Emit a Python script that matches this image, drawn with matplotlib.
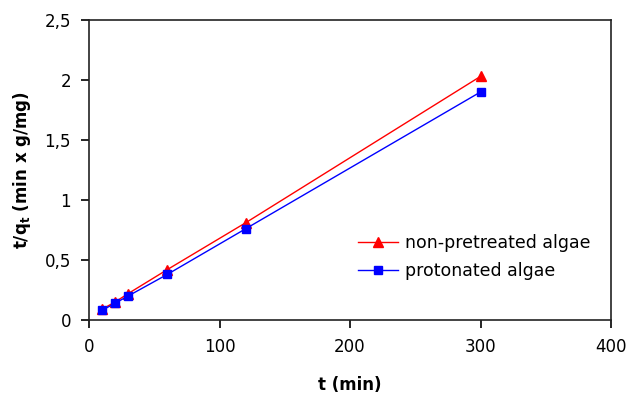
import matplotlib
matplotlib.use("Agg")
import matplotlib.pyplot as plt
from matplotlib.ticker import FuncFormatter, MultipleLocator

plt.rcParams["font.family"] = ["DejaVu Sans"]
plt.rcParams["mathtext.fontset"] = "dejavusans"

# Данные (время, мин) и t/qt
t_min = [10, 20, 30, 60, 120, 300]
non_pretreated = [0.09, 0.15, 0.22, 0.42, 0.81, 2.03]
protonated = [0.08, 0.14, 0.20, 0.38, 0.76, 1.90]

fig = plt.figure(figsize=(6.29, 3.95), dpi=100)
ax = fig.add_axes([89 / 629, 75 / 395, 522 / 629, 300 / 395])

ax.plot(t_min, non_pretreated, color="red", marker="^", markersize=7,
        linewidth=1, label="non-pretreated algae")
ax.plot(t_min, protonated, color="blue", marker="s", markersize=6,
        linewidth=1, label="protonated algae")

ax.set_xlim(0, 400)
ax.set_ylim(0, 2.5)
ax.xaxis.set_major_locator(MultipleLocator(100))
ax.yaxis.set_major_locator(MultipleLocator(0.5))
ax.yaxis.set_major_formatter(FuncFormatter(lambda v, p: f"{v:g}".replace(".", ",")))

for s in ax.spines.values():
    s.set_color("#222222")
    s.set_linewidth(1.2)
ax.tick_params(direction="out", labelsize=12, length=6, width=1.2, pad=7)

ax.set_xlabel("t (min)", fontweight="bold", fontsize=12, labelpad=14)
ax.set_ylabel(r"t/q$_\mathbf{t}$ (min x g/mg)", fontweight="bold", fontsize=12, labelpad=8)

ax.legend(loc="center left", bbox_to_anchor=(0.486, 0.21), frameon=False,
          fontsize=12.5, handlelength=2.3, handletextpad=0.4, labelspacing=0.55)

fig.savefig("out.png", dpi=100)
